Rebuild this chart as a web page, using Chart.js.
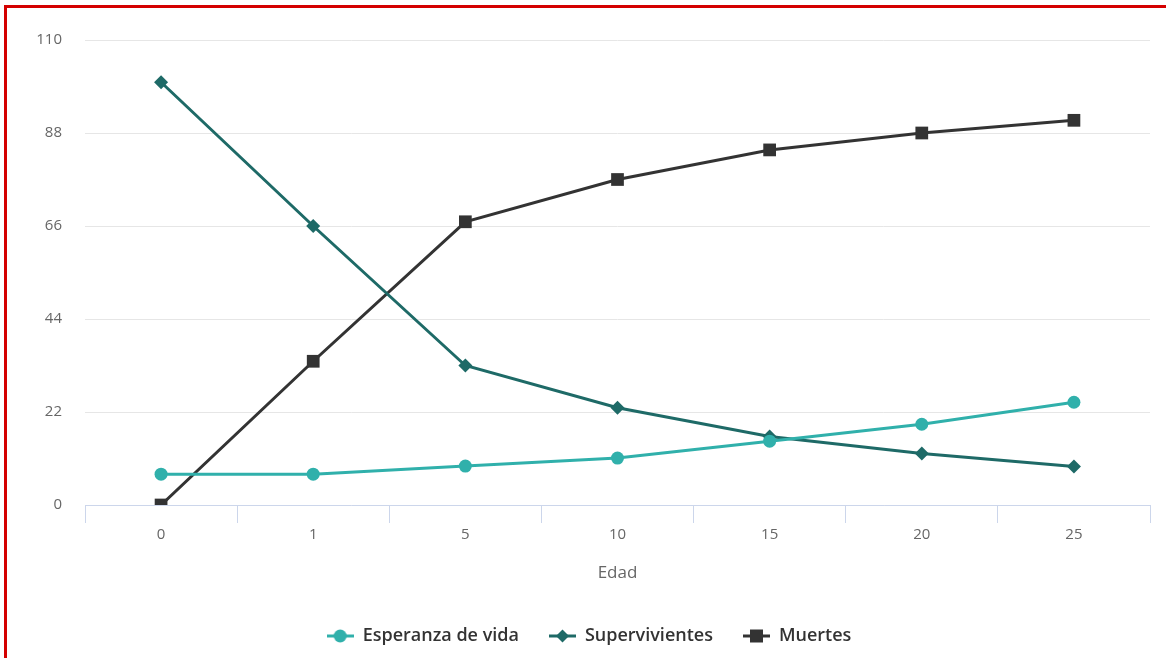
<!DOCTYPE html>
<html>
<head>
<meta charset="utf-8">
<script src="https://cdn.jsdelivr.net/npm/chart.js@4.4.0/dist/chart.umd.min.js"></script>
<style>
  body { margin: 0; background: #fff; }
  #wrap { position: relative; width: 1166px; height: 658px; overflow: hidden; }
  #frame { position: absolute; left: 4px; top: 5px; width: 1200px; height: 700px;
           border-left: 3px solid #d40000; border-top: 3px solid #d40000; }
  #myChart { position: absolute; left: 0; top: 0; }
</style>
</head>
<body>
<div id="wrap">
  <div id="frame"></div>
  <canvas id="myChart" width="1166" height="658"></canvas>
</div>
<script>
const edades = ['0', '1', '5', '10', '15', '20', '25'];
const esperanzaVida = [7.3, 7.3, 9.2, 11.1, 15.1, 19.1, 24.3];
const supervivientes = [100, 66, 33, 23, 16.2, 12.2, 9.1];
const muertes = [0, 34, 67, 77, 84, 88, 91];
const yTicks = [0, 22, 44, 66, 88, 110];

const colEsp = '#30b0ab';
const colSup = '#1e6a67';
const colMue = '#333333';

// small line+marker icons for the legend
function legendIcon(color, shape) {
    let c = document.createElement('canvas');
    c.width = 27; c.height = 16;
    let g = c.getContext('2d');
    g.strokeStyle = color; g.fillStyle = color; g.lineWidth = 3;
    g.beginPath(); g.moveTo(0, 8); g.lineTo(27, 8); g.stroke();
    g.beginPath();
    if (shape === 'circle') g.arc(13.5, 8, 6.5, 0, Math.PI * 2);
    else if (shape === 'diamond') { g.moveTo(13.5, 1.5); g.lineTo(20, 8); g.lineTo(13.5, 14.5); g.lineTo(7, 8); g.closePath(); }
    else g.rect(7, 1.5, 13, 13);
    g.fill();
    return c;
}
const icons = [legendIcon(colEsp, 'circle'), legendIcon(colSup, 'diamond'), legendIcon(colMue, 'square')];

// legend sits a bit right of centre in the original
const legendShift = {
    id: 'legendShift',
    afterLayout: function (chart) {
        chart.legend.left += 14;
        chart.legend.right += 14;
    }
};

let ctx = document.getElementById('myChart').getContext('2d');
let myChart = new Chart(ctx, {
    type: 'line',
    data: {
        labels: edades,
        datasets: [{
            label: 'Esperanza de vida',
            data: esperanzaVida,
            borderColor: colEsp, backgroundColor: colEsp,
            borderWidth: 3, pointStyle: 'circle', pointRadius: 6.5, pointBorderWidth: 0
        }, {
            label: 'Supervivientes',
            data: supervivientes,
            borderColor: colSup, backgroundColor: colSup,
            borderWidth: 3, pointStyle: 'rectRot', pointRadius: 7, pointBorderWidth: 0
        }, {
            label: 'Muertes',
            data: muertes,
            borderColor: colMue, backgroundColor: colMue,
            borderWidth: 3, pointStyle: 'rect', pointRadius: 9, pointBorderWidth: 0
        }]
    },
    options: {
        responsive: false,
        animation: false,
        layout: { padding: { top: 40, right: 16, bottom: 3, left: 0 } },
        plugins: {
            tooltip: { enabled: false },
            legend: {
                position: 'bottom',
                labels: {
                    usePointStyle: true,
                    pointStyleWidth: 27,
                    padding: 30,
                    color: '#333',
                    font: { family: 'Open Sans', size: 18, weight: '600' },
                    generateLabels: function (chart) {
                        let items = Chart.defaults.plugins.legend.labels.generateLabels(chart);
                        items.forEach(function (it, i) { it.pointStyle = icons[i]; });
                        return items;
                    }
                }
            }
        },
        scales: {
            x: {
                offset: true,
                afterFit: function (scale) { scale.height = 92; },
                border: { color: '#ccd6eb', width: 1 },
                grid: { drawOnChartArea: false, tickLength: 18, color: '#ccd6eb', offset: true },
                ticks: { color: '#666', padding: 3, font: { family: 'Open Sans', size: 15 } },
                title: { display: true, text: 'Edad', color: '#666', padding: { top: 0, bottom: 14 },
                         font: { family: 'Open Sans', size: 17 } }
            },
            y: {
                min: 0, max: 110,
                afterFit: function (scale) { scale.width = 85; },
                afterBuildTicks: function (scale) { scale.ticks = yTicks.map(function (v) { return { value: v }; }); },
                border: { display: false },
                grid: { color: '#e6e6e6', drawTicks: false, lineWidth: 1 },
                ticks: { color: '#666', padding: 23, font: { family: 'Open Sans', size: 15 } }
            }
        }
    },
    plugins: [legendShift]
});
</script>
</body>
</html>
